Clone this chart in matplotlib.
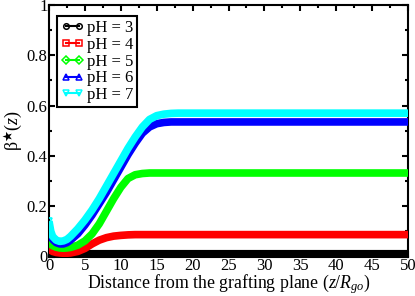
import matplotlib
matplotlib.use("Agg")
import matplotlib.pyplot as plt
from matplotlib.lines import Line2D
from matplotlib.ticker import MultipleLocator

plt.rcParams['font.family'] = ['Liberation Serif', 'DejaVu Serif']
plt.rcParams['mathtext.fontset'] = 'custom'
plt.rcParams['mathtext.rm'] = 'Liberation Serif'
plt.rcParams['mathtext.it'] = 'Liberation Serif:italic'

z = [0, 0.25, 0.5, 1, 1.5, 2, 2.5, 3, 4, 5, 6, 7, 8, 9, 10, 11, 12, 13,
     14, 15, 16, 17, 18, 20, 25, 30, 35, 40, 45, 50]

beta_ph3 = [0.016, 0.013, 0.012, 0.011, 0.011, 0.011, 0.011, 0.011, 0.011, 0.011,
            0.011, 0.011, 0.011, 0.011, 0.011, 0.011, 0.011, 0.011, 0.011, 0.011,
            0.011, 0.011, 0.011, 0.011, 0.011, 0.011, 0.011, 0.011, 0.011, 0.011]
beta_ph4 = [0.035, 0.025, 0.020, 0.016, 0.014, 0.013, 0.013, 0.014, 0.020, 0.032,
            0.050, 0.065, 0.075, 0.081, 0.084, 0.086, 0.087, 0.087, 0.087, 0.087,
            0.087, 0.087, 0.087, 0.087, 0.087, 0.087, 0.087, 0.087, 0.087, 0.087]
beta_ph5 = [0.065, 0.050, 0.043, 0.037, 0.034, 0.033, 0.034, 0.036, 0.045, 0.062,
            0.090, 0.130, 0.180, 0.230, 0.275, 0.310, 0.325, 0.330, 0.332, 0.332,
            0.332, 0.332, 0.332, 0.332, 0.332, 0.332, 0.332, 0.332, 0.332, 0.332]
beta_ph6 = [0.120, 0.085, 0.068, 0.055, 0.050, 0.050, 0.055, 0.065, 0.090, 0.125,
            0.165, 0.210, 0.255, 0.305, 0.355, 0.405, 0.450, 0.490, 0.515, 0.528,
            0.533, 0.535, 0.535, 0.535, 0.535, 0.535, 0.535, 0.535, 0.535, 0.535]
beta_ph7 = [0.140, 0.100, 0.080, 0.065, 0.060, 0.062, 0.068, 0.080, 0.110, 0.145,
            0.185, 0.230, 0.280, 0.330, 0.380, 0.430, 0.475, 0.515, 0.545, 0.560,
            0.566, 0.569, 0.570, 0.570, 0.570, 0.570, 0.570, 0.570, 0.570, 0.570]

labels = ["pH = 3", "pH = 4", "pH = 5", "pH = 6", "pH = 7"]
series = [beta_ph3, beta_ph4, beta_ph5, beta_ph6, beta_ph7]
colors = ["#000000", "#ff0000", "#00ff00", "#0000ff", "#00ffff"]
markers = ["o", "s", "D", "^", "v"]

fig = plt.figure(figsize=(4.15, 2.96), dpi=100)
ax = fig.add_axes([49/415, 1-256.5/296, 359/415, 251.5/296])

for vals, c, m in zip(series, colors, markers):
    ax.plot(z, vals, color=c, lw=5.5, solid_capstyle='butt', solid_joinstyle='round', zorder=3)
    ax.plot(z[:1], vals[:1], ls='none', marker=m, ms=5, mfc='none', mec=c, mew=1.2, zorder=3)

ax.set_xlim(0, 50)
ax.set_ylim(0, 1)
ax.xaxis.set_major_locator(MultipleLocator(5))
ax.xaxis.set_minor_locator(MultipleLocator(2.5))
ax.yaxis.set_minor_locator(MultipleLocator(0.1))
ax.set_yticks([0, 0.2, 0.4, 0.6, 0.8, 1.0])
ax.set_yticklabels(["0", "0.2", "0.4", "0.6", "0.8", "1"])
ax.tick_params(which='both', direction='in', top=True, right=True, labelsize=12, width=1.5, pad=1)
ax.tick_params(which='major', length=4.5)
ax.tick_params(which='minor', length=2.5)
for s in ax.spines.values():
    s.set_linewidth(1.5)

ax.set_xlabel(r"Distance from the grafting plane ($z$/$R_{go}$)", fontsize=12.8, labelpad=-1)
ax.set_ylabel(r"$\mathrm{\beta}^{\bigstar}(z)$", fontsize=13, labelpad=1)

handles = [Line2D([0], [0], color=c, lw=1.5, marker=m, ms=4, mfc='none', mec=c, mew=1.1)
           for c, m in zip(colors, markers)]
leg = ax.legend(handles, labels, loc='upper left', bbox_to_anchor=(0.022, 0.957),
                borderaxespad=0, fontsize=12, numpoints=2, handlelength=1.35,
                handletextpad=0.2, labelspacing=0.05, borderpad=0.25,
                fancybox=False, framealpha=1, edgecolor='black')
leg.get_frame().set_linewidth(1.5)

fig.savefig("out.png", dpi=100)
